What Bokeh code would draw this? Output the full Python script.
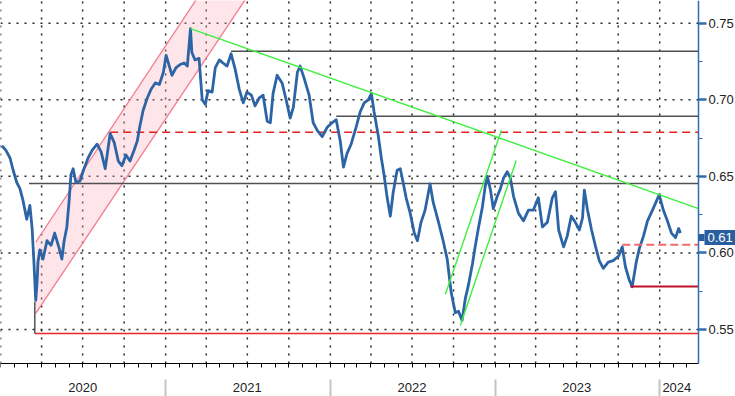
import pandas as pd
from bokeh.plotting import figure
from bokeh.models import (Range1d, FixedTicker, PrintfTickFormatter, DatetimeAxis,
                          LinearAxis, DatetimeTickFormatter)
from bokeh.embed import file_html
from bokeh.resources import INLINE

# ---------------- data ----------------
dates = [
    "2020-01-04", "2020-01-13", "2020-01-22", "2020-01-29", "2020-02-06", "2020-02-13", "2020-02-20", "2020-02-28",
    "2020-03-06", "2020-03-11", "2020-03-15", "2020-03-19", "2020-03-22", "2020-03-24", "2020-03-28", "2020-04-04",
    "2020-04-13", "2020-04-22", "2020-04-30", "2020-05-10", "2020-05-16", "2020-05-21", "2020-05-27", "2020-06-01",
    "2020-06-05", "2020-06-10", "2020-06-16", "2020-06-25", "2020-07-04", "2020-07-13", "2020-07-22", "2020-08-02",
    "2020-08-11", "2020-08-20", "2020-08-31", "2020-09-09", "2020-09-18", "2020-09-26", "2020-10-05", "2020-10-14",
    "2020-10-23", "2020-10-30", "2020-11-05", "2020-11-12", "2020-11-21", "2020-11-30", "2020-12-09", "2020-12-18",
    "2020-12-27", "2021-01-02", "2021-01-09", "2021-01-15", "2021-01-24", "2021-02-02", "2021-02-11", "2021-02-18",
    "2021-02-25", "2021-02-28", "2021-03-07", "2021-03-16", "2021-03-23", "2021-03-30", "2021-04-05", "2021-04-14",
    "2021-04-21", "2021-04-30", "2021-05-08", "2021-05-17", "2021-05-26", "2021-06-04", "2021-06-13", "2021-06-22",
    "2021-06-30", "2021-07-10", "2021-07-18", "2021-07-27", "2021-08-05", "2021-08-14", "2021-08-21", "2021-08-27",
    "2021-09-05", "2021-09-16", "2021-09-25", "2021-10-04", "2021-10-11", "2021-10-20", "2021-10-26", "2021-11-04",
    "2021-11-15", "2021-11-24", "2021-12-03", "2021-12-14", "2021-12-25", "2022-01-05", "2022-01-14", "2022-01-23",
    "2022-01-30", "2022-02-07", "2022-02-16", "2022-02-27", "2022-03-08", "2022-03-17", "2022-03-26", "2022-04-02",
    "2022-04-08", "2022-04-17", "2022-04-24", "2022-04-30", "2022-05-07", "2022-05-14", "2022-05-20", "2022-05-29",
    "2022-06-05", "2022-06-12", "2022-06-18", "2022-06-27", "2022-07-06", "2022-07-13", "2022-07-21", "2022-07-30",
    "2022-08-10", "2022-08-17", "2022-08-28", "2022-09-08", "2022-09-17", "2022-09-26", "2022-10-05", "2022-10-12",
    "2022-10-20", "2022-10-27", "2022-11-03", "2022-11-12", "2022-11-18", "2022-11-25", "2022-12-04", "2022-12-10",
    "2022-12-15", "2022-12-22", "2022-12-28", "2023-01-06", "2023-01-13", "2023-01-20", "2023-01-28", "2023-02-04",
    "2023-02-11", "2023-02-22", "2023-03-05", "2023-03-16", "2023-03-27", "2023-04-07", "2023-04-16", "2023-04-27",
    "2023-05-08", "2023-05-15", "2023-05-22", "2023-06-02", "2023-06-10", "2023-06-19", "2023-06-28", "2023-07-07",
    "2023-07-14", "2023-07-18", "2023-07-25", "2023-08-03", "2023-08-12", "2023-08-20", "2023-08-29", "2023-09-09",
    "2023-09-20", "2023-10-02", "2023-10-10", "2023-10-17", "2023-10-26", "2023-11-01", "2023-11-10", "2023-11-17",
    "2023-11-26", "2023-12-05", "2023-12-16", "2023-12-25", "2023-12-31", "2024-01-09", "2024-01-18", "2024-01-27",
    "2024-02-05", "2024-02-12", "2024-02-16",
]
prices = [
    0.670, 0.667, 0.662, 0.654, 0.646, 0.642, 0.634, 0.622,
    0.631, 0.616, 0.594, 0.569, 0.581, 0.594, 0.602, 0.596,
    0.608, 0.605, 0.613, 0.603, 0.596, 0.608, 0.617, 0.634,
    0.651, 0.655, 0.646, 0.647, 0.655, 0.662, 0.667, 0.671,
    0.666, 0.655, 0.678, 0.672, 0.660, 0.657, 0.664, 0.660,
    0.667, 0.673, 0.683, 0.693, 0.701, 0.707, 0.711, 0.710,
    0.718, 0.729, 0.722, 0.716, 0.721, 0.723, 0.724, 0.722,
    0.7465, 0.731, 0.726, 0.727, 0.700, 0.697, 0.706, 0.705,
    0.721, 0.726, 0.724, 0.722, 0.730, 0.720, 0.707, 0.698,
    0.705, 0.703, 0.696, 0.701, 0.703, 0.686, 0.685, 0.704,
    0.716, 0.711, 0.700, 0.688, 0.695, 0.718, 0.722, 0.714,
    0.703, 0.685, 0.680, 0.676, 0.682, 0.685, 0.687, 0.673,
    0.656, 0.665, 0.671, 0.682, 0.692, 0.698, 0.700, 0.704,
    0.692, 0.677, 0.662, 0.651, 0.636, 0.624, 0.639, 0.654,
    0.655, 0.645, 0.636, 0.626, 0.613, 0.608, 0.620, 0.628,
    0.645, 0.633, 0.621, 0.608, 0.596, 0.574, 0.561, 0.562,
    0.556, 0.570, 0.579, 0.593, 0.604, 0.616, 0.630, 0.643,
    0.650, 0.641, 0.629, 0.637, 0.642, 0.649, 0.653, 0.649,
    0.637, 0.626, 0.621, 0.628, 0.628, 0.636, 0.617, 0.620,
    0.636, 0.640, 0.615, 0.604, 0.611, 0.624, 0.620, 0.615,
    0.623, 0.641, 0.628, 0.615, 0.604, 0.595, 0.590, 0.594,
    0.595, 0.598, 0.604, 0.591, 0.582, 0.578, 0.594, 0.603,
    0.611, 0.621, 0.628, 0.634, 0.638, 0.628, 0.621, 0.613,
    0.610, 0.616, 0.613,
]
last_price = 0.61

# annotation lines
channel_upper_dates = ["2020-03-19", "2021-04-07"]
channel_upper_vals = [0.607, 0.778]
channel_lower_dates = ["2020-03-19", "2021-07-25"]
channel_lower_vals = [0.5605, 0.778]
trend_dates = ["2021-02-25", "2024-03-27"]
trend_vals = [0.7465, 0.629]
rally_a_dates = ["2022-09-13", "2023-01-15"]
rally_a_vals = [0.573, 0.680]
rally_b_dates = ["2022-10-16", "2023-02-17"]
rally_b_vals = [0.5527, 0.6604]
black_level_starts = ["2021-05-26", "2022-01-14", "2020-03-04"]
black_level_vals = [0.7317, 0.6893, 0.6453]
red_dash_start, red_dash_val = "2020-08-31", 0.6788
pink_dash_start, pink_dash_val = "2023-10-10", 0.6053
darkred_start, darkred_val = "2023-10-28", 0.5781
bottom_start, bottom_val = "2020-03-17", 0.5474
bottom_connector_vals = [0.5474, 0.568]

y_ticks = [0.55, 0.60, 0.65, 0.70, 0.75]
y_minor = [0.575, 0.625, 0.675, 0.725]
year_label_dates = ["2020-07-01", "2021-07-01", "2022-07-01", "2023-07-01", "2024-02-08"]
year_starts = ["2021-01-01", "2022-01-01", "2023-01-01", "2024-01-01"]

# ---------------- layout constants ----------------
def ms(d):
    return pd.Timestamp(d).value / 1e6

def dt(lst):
    return pd.to_datetime(lst)

BLUE = "#2c64a6"
AXIS_BLUE = "#2e6db4"
TAG_BLUE = "#2a5f9f"
FONT = "Liberation Sans"
X_START = "2019-12-31 22:00"
X_END = "2024-03-27"          # right edge of the price area (value axis position)
X_CANVAS_END = "2024-06-17"   # right edge of the picture
Y_TOP = 0.7648
Y_LOW = 0.52786               # bottom of the price area (time axis position)
Y_CANVAS_LOW = 0.50631        # bottom of the picture
SEPARATOR_Y = 0.5174          # where the year separators start

p = figure(width=735, height=396, x_axis_type="datetime", y_axis_location="right",
           output_backend="svg", toolbar_location=None,
           x_range=Range1d(ms(X_START), ms(X_CANVAS_END)),
           y_range=Range1d(Y_CANVAS_LOW, Y_TOP),
           min_border=0, min_border_left=0, min_border_right=0,
           min_border_top=0, min_border_bottom=0)
p.outline_line_color = None
p.background_fill_color = "white"
p.xgrid.visible = False
p.ygrid.visible = False

# ---- dotted grid restricted to the price area ----
quarters = pd.date_range("2020-01-01", "2024-01-01", freq="QS")
p.segment(x0=list(quarters), y0=[Y_LOW] * len(quarters), x1=list(quarters), y1=[Y_TOP] * len(quarters),
          line_color="#222222", line_width=1.5, line_dash="2 6")
p.segment(x0=[pd.Timestamp(X_START)] * len(y_ticks), y0=y_ticks,
          x1=[pd.Timestamp(X_END)] * len(y_ticks), y1=y_ticks,
          line_color="#222222", line_width=1.5, line_dash="2 6")

# ---- main time axis: line + monthly ticks ----
month_starts = pd.date_range("2020-01-01", "2024-03-01", freq="MS")
xa = p.xaxis[0]
xa.fixed_location = Y_LOW
xa.bounds = (ms(X_START), ms(X_END))
xa.ticker = FixedTicker(ticks=[], minor_ticks=[ms(d) for d in month_starts])
xa.major_tick_out = 4
xa.major_tick_in = 0
xa.minor_tick_out = 4
xa.minor_tick_in = 0
xa.minor_tick_line_color = "black"
xa.axis_line_color = "black"
xa.axis_line_width = 1.2

# ---- year separators ----
sep = DatetimeAxis(fixed_location=SEPARATOR_Y, bounds=(ms(X_START), ms(X_END)),
                   ticker=FixedTicker(ticks=[], minor_ticks=[ms(d) for d in year_starts]))
sep.axis_line_color = None
sep.minor_tick_in = 0
sep.minor_tick_out = 18
sep.minor_tick_line_color = "#c4c4c4"
sep.minor_tick_line_width = 2
p.add_layout(sep, "below")

# ---- year labels ----
yr = DatetimeAxis(fixed_location=SEPARATOR_Y, bounds=(ms(X_START), ms(X_END)),
                  ticker=FixedTicker(ticks=[ms(d) for d in year_label_dates]))
yr.formatter = DatetimeTickFormatter(years="%Y", months="%Y", days="%Y", hours="%Y",
                                     hourmin="%Y", minutes="%Y", minsec="%Y", seconds="%Y",
                                     milliseconds="%Y", microseconds="%Y", context=None)
yr.axis_line_color = None
yr.major_tick_line_color = None
yr.major_tick_out = 0
yr.major_tick_in = 0
yr.major_label_standoff = 3
yr.major_label_text_font = FONT
yr.major_label_text_font_size = "13px"
yr.major_label_text_color = "#222222"
p.add_layout(yr, "below")

# ---- value axis ----
ya = p.yaxis[0]
ya.fixed_location = ms(X_END)
ya.bounds = (Y_LOW, Y_TOP)
ya.ticker = FixedTicker(ticks=y_ticks, minor_ticks=y_minor)
ya.formatter = PrintfTickFormatter(format="%.2f")
ya.axis_line_color = AXIS_BLUE
ya.axis_line_width = 1.5
ya.major_tick_out = 8
ya.major_tick_in = 0
ya.major_tick_line_color = AXIS_BLUE
ya.major_tick_line_width = 2.5
ya.minor_tick_out = 4
ya.minor_tick_in = 0
ya.minor_tick_line_color = AXIS_BLUE
ya.major_label_text_font = FONT
ya.major_label_text_font_size = "13px"
ya.major_label_text_color = "#222222"
ya.major_label_standoff = 2

# ---- last-price tag: a thick tick forms the box, a short minor tick the pointer ----
tag = LinearAxis(fixed_location=ms(X_END),
                 ticker=FixedTicker(ticks=[last_price], minor_ticks=[last_price]),
                 formatter=PrintfTickFormatter(format="%.2f"))
tag.axis_line_color = None
tag.major_tick_out = 6
tag.major_tick_line_color = TAG_BLUE
tag.major_tick_line_width = 15
tag.minor_tick_in = 0
tag.minor_tick_out = 6
tag.minor_tick_line_color = TAG_BLUE
tag.minor_tick_line_width = 7
tag.major_label_standoff = 3
tag.major_label_text_font = FONT
tag.major_label_text_font_size = "13px"
try:
    tag.major_tick_in = -37
    tag.major_label_text_color = "white"
except ValueError:
    tag.major_tick_in = 0
    tag.major_tick_line_width = 7
    tag.major_label_text_color = TAG_BLUE
p.add_layout(tag, "right")

# ---- pink channel ----
cx = list(dt(channel_upper_dates)) + list(dt(channel_lower_dates))[::-1]
cy = channel_upper_vals + channel_lower_vals[::-1]
p.patch(cx, cy, fill_color="#f9b5c3", fill_alpha=0.35, line_color=None)
p.line(dt(channel_upper_dates), channel_upper_vals, line_color="#f37b8e", line_width=1.3)
p.line(dt(channel_lower_dates), channel_lower_vals, line_color="#f37b8e", line_width=1.3)

# ---- horizontal levels ----
for s, v in zip(black_level_starts, black_level_vals):
    p.line(dt([s, X_END]), [v, v], line_color="#505050", line_width=1.5)
p.line(dt([red_dash_start, X_END]), [red_dash_val] * 2, line_color="#e42222",
       line_width=1.3, line_dash="8 5")
p.line(dt([bottom_start, X_END]), [bottom_val] * 2, line_color="#e8262a", line_width=1.5)
p.line(dt([bottom_start, bottom_start]), bottom_connector_vals, line_color="#3a3a3a", line_width=1.3)

# ---- price series ----
p.line(dt(dates), prices, line_color=BLUE, line_width=2.8, line_join="round")

# ---- trend lines ----
p.line(dt(trend_dates), trend_vals, line_color="#3ef03e", line_width=1.4)
p.line(dt(rally_a_dates), rally_a_vals, line_color="#3ef03e", line_width=1.4)
p.line(dt(rally_b_dates), rally_b_vals, line_color="#3ef03e", line_width=1.4)

# ---- recent levels ----
p.line(dt([pink_dash_start, X_END]), [pink_dash_val] * 2, line_color="#f26b6b",
       line_width=2, line_dash="8 4")
p.line(dt([darkred_start, X_END]), [darkred_val] * 2, line_color="#c0102c", line_width=2)

open("out.html", "w").write(file_html(p, INLINE))
